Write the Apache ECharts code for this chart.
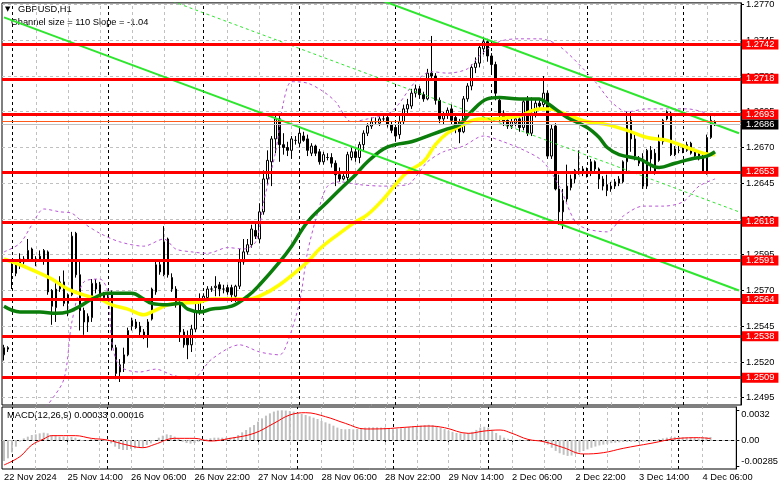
<!DOCTYPE html>
<html><head><meta charset="utf-8">
<script src="https://cdn.jsdelivr.net/npm/echarts@6/dist/echarts.min.js"></script>
<style>html,body{margin:0;padding:0;background:#fff}#c{width:781px;height:489px}</style>
</head><body><div id="c"></div>
<script>
const FONT = 'Liberation Sans';

// ---- OHLC (GBPUSD H1, 22 Nov 22:00 -> 4 Dec 08:00) ----
const opens = [1.2525,1.2530,1.2587,1.2582,1.2589,1.2590,1.2591,1.2599,1.2590,1.2592,1.2592,1.2597,1.2570,1.2558,1.2571,1.2576,1.2561,1.2567,1.2610,1.2581,1.2556,1.2548,1.2551,1.2575,1.2574,1.2565,1.2567,1.2567,1.2530,1.2518,1.2519,1.2525,1.2545,1.2548,1.2545,1.2541,1.2538,1.2550,1.2569,1.2588,1.2581,1.2606,1.2579,1.2571,1.2561,1.2541,1.2537,1.2532,1.2543,1.2556,1.2564,1.2565,1.2571,1.2572,1.2574,1.2571,1.2572,1.2572,1.2566,1.2573,1.2590,1.2597,1.2602,1.2612,1.2606,1.2625,1.2648,1.2660,1.2676,1.2690,1.2672,1.2670,1.2668,1.2675,1.2673,1.2678,1.2676,1.2666,1.2671,1.2667,1.2660,1.2663,1.2663,1.2659,1.2651,1.2648,1.2649,1.2663,1.2667,1.2663,1.2672,1.2680,1.2685,1.2688,1.2687,1.2690,1.2691,1.2686,1.2684,1.2679,1.2688,1.2697,1.2699,1.2708,1.2711,1.2707,1.2704,1.2722,1.2720,1.2703,1.2690,1.2693,1.2697,1.2691,1.2688,1.2681,1.2704,1.2713,1.2726,1.2729,1.2739,1.2744,1.2734,1.2728,1.2703,1.2694,1.2689,1.2685,1.2687,1.2690,1.2684,1.2703,1.2680,1.2694,1.2701,1.2700,1.2708,1.2664,1.2685,1.2641,1.2625,1.2634,1.2642,1.2648,1.2655,1.2655,1.2652,1.2653,1.2660,1.2655,1.2648,1.2644,1.2641,1.2643,1.2645,1.2646,1.2660,1.2689,1.2676,1.2662,1.2661,1.2643,1.2668,1.2666,1.2661,1.2674,1.2690,1.2694,1.2669,1.2668,1.2670,1.2668,1.2673,1.2668,1.2662,1.2664,1.2652,1.2677,1.2688];
const highs = [1.2532,1.2531,1.2590,1.2592,1.2596,1.2594,1.2606,1.2600,1.2594,1.2598,1.2599,1.2598,1.2571,1.2575,1.2580,1.2584,1.2568,1.2611,1.2611,1.2591,1.2558,1.2554,1.2578,1.2578,1.2576,1.2569,1.2569,1.2570,1.2532,1.2522,1.2530,1.2544,1.2551,1.2550,1.2548,1.2543,1.2550,1.2572,1.2590,1.2592,1.2615,1.2607,1.2582,1.2573,1.2563,1.2543,1.2542,1.2546,1.2561,1.2568,1.2568,1.2573,1.2573,1.2580,1.2576,1.2574,1.2574,1.2574,1.2574,1.2599,1.2606,1.2606,1.2616,1.2618,1.2631,1.2654,1.2668,1.2678,1.2693,1.2692,1.2680,1.2674,1.2678,1.2678,1.2683,1.2681,1.2679,1.2673,1.2672,1.2669,1.2667,1.2666,1.2666,1.2661,1.2656,1.2652,1.2667,1.2670,1.2669,1.2674,1.2682,1.2687,1.2691,1.2691,1.2692,1.2693,1.2693,1.2688,1.2686,1.2692,1.2700,1.2704,1.2711,1.2714,1.2713,1.2709,1.2725,1.2748,1.2722,1.2705,1.2695,1.2698,1.2700,1.2694,1.2690,1.2706,1.2715,1.2728,1.2733,1.2742,1.2747,1.2746,1.2736,1.2730,1.2706,1.2696,1.2691,1.2691,1.2693,1.2692,1.2704,1.2706,1.2705,1.2704,1.2703,1.2720,1.2710,1.2686,1.2687,1.2651,1.2641,1.2658,1.2651,1.2655,1.2668,1.2657,1.2656,1.2662,1.2661,1.2656,1.2650,1.2651,1.2646,1.2648,1.2650,1.2661,1.2695,1.2695,1.2679,1.2664,1.2666,1.2669,1.2671,1.2669,1.2679,1.2690,1.2696,1.2695,1.2671,1.2672,1.2672,1.2674,1.2674,1.2669,1.2667,1.2665,1.2679,1.2694,1.2689];
const lows = [1.2521,1.2527,1.2571,1.2580,1.2585,1.2588,1.2590,1.2590,1.2587,1.2590,1.2588,1.2567,1.2546,1.2548,1.2569,1.2559,1.2552,1.2566,1.2579,1.2542,1.2539,1.2541,1.2548,1.2568,1.2563,1.2563,1.2563,1.2528,1.2508,1.2506,1.2513,1.2524,1.2542,1.2543,1.2538,1.2536,1.2530,1.2549,1.2567,1.2581,1.2580,1.2579,1.2569,1.2558,1.2534,1.2530,1.2522,1.2527,1.2541,1.2553,1.2562,1.2563,1.2569,1.2566,1.2566,1.2568,1.2567,1.2562,1.2562,1.2571,1.2588,1.2595,1.2600,1.2606,1.2603,1.2623,1.2644,1.2643,1.2666,1.2660,1.2665,1.2664,1.2662,1.2672,1.2670,1.2674,1.2664,1.2664,1.2664,1.2658,1.2658,1.2661,1.2656,1.2643,1.2646,1.2647,1.2646,1.2661,1.2660,1.2659,1.2668,1.2678,1.2683,1.2686,1.2685,1.2688,1.2684,1.2680,1.2674,1.2676,1.2686,1.2694,1.2697,1.2705,1.2704,1.2702,1.2703,1.2718,1.2700,1.2687,1.2686,1.2690,1.2686,1.2680,1.2673,1.2680,1.2702,1.2710,1.2722,1.2726,1.2735,1.2730,1.2722,1.2703,1.2688,1.2685,1.2683,1.2683,1.2685,1.2681,1.2682,1.2678,1.2678,1.2691,1.2697,1.2698,1.2662,1.2662,1.2640,1.2616,1.2613,1.2632,1.2640,1.2645,1.2651,1.2650,1.2649,1.2650,1.2653,1.2641,1.2640,1.2636,1.2639,1.2641,1.2643,1.2645,1.2652,1.2667,1.2661,1.2657,1.2641,1.2641,1.2653,1.2651,1.2660,1.2672,1.2689,1.2664,1.2664,1.2666,1.2666,1.2667,1.2665,1.2662,1.2661,1.2652,1.2651,1.2676,1.2685];
const closes = [1.2530,1.2529,1.2583,1.2591,1.2592,1.2592,1.2598,1.2591,1.2592,1.2594,1.2598,1.2569,1.2559,1.2571,1.2576,1.2561,1.2567,1.2608,1.2581,1.2556,1.2548,1.2552,1.2575,1.2571,1.2565,1.2567,1.2565,1.2530,1.2512,1.2513,1.2525,1.2542,1.2549,1.2544,1.2541,1.2538,1.2548,1.2571,1.2588,1.2583,1.2604,1.2581,1.2571,1.2560,1.2541,1.2532,1.2532,1.2543,1.2556,1.2564,1.2566,1.2571,1.2571,1.2573,1.2571,1.2571,1.2569,1.2567,1.2573,1.2590,1.2597,1.2602,1.2613,1.2608,1.2625,1.2648,1.2661,1.2676,1.2690,1.2672,1.2670,1.2668,1.2676,1.2675,1.2680,1.2675,1.2668,1.2671,1.2666,1.2660,1.2665,1.2663,1.2659,1.2651,1.2648,1.2650,1.2665,1.2667,1.2663,1.2672,1.2680,1.2685,1.2688,1.2688,1.2690,1.2690,1.2686,1.2682,1.2678,1.2688,1.2697,1.2700,1.2708,1.2711,1.2707,1.2704,1.2722,1.2720,1.2703,1.2690,1.2693,1.2696,1.2689,1.2683,1.2681,1.2704,1.2713,1.2726,1.2729,1.2740,1.2744,1.2734,1.2728,1.2708,1.2693,1.2688,1.2685,1.2688,1.2690,1.2684,1.2702,1.2680,1.2694,1.2701,1.2699,1.2708,1.2664,1.2683,1.2641,1.2625,1.2633,1.2643,1.2648,1.2654,1.2655,1.2652,1.2653,1.2660,1.2655,1.2648,1.2643,1.2640,1.2643,1.2646,1.2648,1.2660,1.2688,1.2676,1.2664,1.2659,1.2643,1.2668,1.2662,1.2652,1.2674,1.2689,1.2695,1.2665,1.2665,1.2668,1.2668,1.2672,1.2666,1.2664,1.2666,1.2653,1.2677,1.2689,1.2686];

// ---- moving averages / envelope lines: [bar index] and [price] ----
const maSlowIdx = [0,4,9,12,16,21,24,27,31,35,37,41,44,49,52,57,61,64,69,76,79,84,88,91,95,98,101,105,108,111,115,119,122,129,134,137,139,142,146,151,156,161,166,171,175,178];
const maSlowVal = [1.2592,1.2588,1.2582,1.2578,1.2571,1.2566,1.2564,1.2560,1.2557,1.2553,1.2555,1.2560,1.2561,1.2562,1.2564,1.2564,1.2564,1.2566,1.2574,1.2590,1.2599,1.2610,1.2618,1.2623,1.2634,1.2644,1.2653,1.2660,1.2672,1.2680,1.2686,1.2690,1.2690,1.2692,1.2697,1.2697,1.2695,1.2692,1.2688,1.2686,1.2682,1.2677,1.2675,1.2670,1.2666,1.2665];
const maFastIdx = [0,4,9,13,16,19,22,26,29,32,35,37,41,44,46,49,52,57,61,64,69,72,76,81,85,88,91,95,98,102,107,111,114,117,121,124,129,134,136,138,141,146,149,151,154,159,164,168,172,176,178];
const maFastVal = [1.2559,1.2555,1.2555,1.2554,1.2555,1.2559,1.2564,1.2568,1.2568,1.2568,1.2564,1.2561,1.2560,1.2561,1.2557,1.2555,1.2557,1.2559,1.2566,1.2574,1.2590,1.2601,1.2618,1.2632,1.2643,1.2651,1.2660,1.2669,1.2672,1.2674,1.2679,1.2683,1.2686,1.2695,1.2704,1.2705,1.2704,1.2704,1.2701,1.2697,1.2691,1.2684,1.2677,1.2670,1.2665,1.2662,1.2656,1.2659,1.2662,1.2664,1.2667];
const bandUpIdx = [0,4,7,10,14,17,20,24,29,35,40,43,47,51,56,60,63,65,68,70,72,76,80,83,87,91,97,103,107,111,116,119,124,129,134,139,148,152,156,161,166,171,176,178];
const bandUpVal = [1.2597,1.2603,1.2616,1.2627,1.2625,1.2624,1.2617,1.2610,1.2604,1.2601,1.2606,1.2599,1.2597,1.2596,1.2600,1.2599,1.2604,1.2632,1.2667,1.2702,1.2716,1.2715,1.2709,1.2702,1.2688,1.2690,1.2695,1.2716,1.2723,1.2722,1.2725,1.2734,1.2744,1.2746,1.2746,1.2741,1.2716,1.2702,1.2695,1.2697,1.2697,1.2697,1.2694,1.2692];
const bandLoIdx = [6,9,11,15,17,20,24,26,27,29,34,38,42,47,52,59,64,69,71,74,76,79,81,84,89,95,101,104,106,110,115,120,125,131,135,139,143,146,151,155,160,165,170,174,178];
const bandLoVal = [1.2478,1.2482,1.2490,1.2508,1.2548,1.2576,1.2578,1.2569,1.2534,1.2517,1.2513,1.2515,1.2511,1.2508,1.2522,1.2532,1.2527,1.2525,1.2534,1.2562,1.2597,1.2629,1.2643,1.2646,1.2644,1.2643,1.2644,1.2653,1.2660,1.2667,1.2671,1.2678,1.2674,1.2667,1.2660,1.2643,1.2618,1.2613,1.2611,1.2622,1.2629,1.2629,1.2632,1.2643,1.2648];

// ---- equidistant channel (values at bar 0 and bar 184) ----
const channelIdx = [0, 184];
const channelUpper = [1.2871, 1.2680];
const channelMiddle = [1.2816, 1.2625];
const channelLower = [1.2761, 1.2570];

// ---- horizontal levels ----
const levels = [1.2742, 1.2718, 1.2693, 1.2653, 1.2618, 1.2591, 1.2564, 1.2538, 1.2509];
const bidPrice = 1.2686;
const askPrice = 1.26883;
const priceTicks = [1.2495,1.2520,1.2545,1.2570,1.2595,1.2620,1.2645,1.2670,1.2695,1.2720,1.2745,1.2770];

// ---- MACD(12,26,9) ----
const macdMain = [-0.00227,-0.00198,-0.00134,-0.00072,-0.00017,0.00017,0.00036,0.00054,0.00061,0.00072,0.00079,0.00072,0.00054,0.00047,0.00036,0.00036,0.00025,0.00033,0.00025,0.00008,-0.00008,-0.00003,0.00008,0.00008,0.00000,-0.00008,-0.00011,-0.00036,-0.00072,-0.00097,-0.00108,-0.00108,-0.00097,-0.00090,-0.00083,-0.00076,-0.00054,-0.00036,0.00000,0.00025,0.00047,0.00061,0.00054,0.00036,0.00011,-0.00018,-0.00033,-0.00039,-0.00033,-0.00018,-0.00008,0.00011,0.00018,0.00025,0.00025,0.00025,0.00025,0.00025,0.00033,0.00054,0.00083,0.00108,0.00137,0.00162,0.00198,0.00234,0.00263,0.00288,0.00307,0.00318,0.00321,0.00318,0.00313,0.00307,0.00296,0.00281,0.00270,0.00256,0.00241,0.00227,0.00206,0.00191,0.00176,0.00155,0.00134,0.00119,0.00115,0.00119,0.00115,0.00119,0.00126,0.00134,0.00137,0.00137,0.00137,0.00134,0.00134,0.00126,0.00118,0.00122,0.00126,0.00130,0.00139,0.00147,0.00151,0.00155,0.00160,0.00164,0.00160,0.00151,0.00134,0.00118,0.00101,0.00088,0.00076,0.00071,0.00071,0.00076,0.00088,0.00109,0.00134,0.00143,0.00134,0.00109,0.00076,0.00050,0.00025,0.00013,0.00004,0.00000,0.00004,-0.00004,-0.00004,-0.00008,-0.00008,-0.00004,-0.00025,-0.00050,-0.00084,-0.00118,-0.00143,-0.00160,-0.00172,-0.00168,-0.00151,-0.00134,-0.00118,-0.00101,-0.00084,-0.00071,-0.00059,-0.00050,-0.00042,-0.00034,-0.00029,-0.00025,-0.00021,-0.00021,-0.00021,-0.00021,-0.00025,-0.00021,-0.00017,-0.00013,-0.00004,0.00008,0.00017,0.00025,0.00029,0.00034,0.00034,0.00029,0.00025,0.00025,0.00021,0.00017,0.00025,0.00029,0.00033];
const signalIdx = [0,4,7,10,12,18,22,26,31,35,38,43,48,52,57,63,68,72,76,81,86,91,96,101,107,111,117,121,125,128,132,136,141,146,151,156,163,170,175,178];
const signalVal = [-0.00270,-0.00180,-0.00054,0.00011,0.00047,0.00047,0.00018,0.00000,-0.00054,-0.00083,-0.00047,0.00018,0.00018,-0.00011,0.00018,0.00072,0.00180,0.00270,0.00295,0.00252,0.00180,0.00119,0.00122,0.00137,0.00151,0.00133,0.00072,0.00097,0.00108,0.00072,0.00007,-0.00018,-0.00083,-0.00151,-0.00137,-0.00090,-0.00036,0.00018,0.00025,0.00016];
const macdTicks = [0.0032, 0, -0.00285];
const macdTickText = ['0.0032', '0.00', '-0.00285'];

// ---- time axis ----
const dateTickLabels = ['22 Nov 2024','25 Nov 14:00','26 Nov 06:00','26 Nov 22:00','27 Nov 14:00','28 Nov 06:00','28 Nov 22:00','29 Nov 14:00','2 Dec 06:00','2 Dec 22:00','3 Dec 14:00','4 Dec 06:00'];
const SLOTS = 185; // 179 bars + empty space on the right
const MONTHS = ['Jan','Feb','Mar','Apr','May','Jun','Jul','Aug','Sep','Oct','Nov','Dec'];
const categories = [];
const hours = [];
(function () {
  let t = Date.UTC(2024, 10, 22, 22);
  while (categories.length < SLOTS) {
    const d = new Date(t);
    const wd = d.getUTCDay();
    if (wd !== 0 && wd !== 6) {
      const h = d.getUTCHours();
      categories.push(d.getUTCDate() + ' ' + MONTHS[d.getUTCMonth()] + ' ' + String(h).padStart(2, '0') + ':00');
      hours.push(h);
    }
    t += 3600000;
  }
})();
const LABEL_STEP = 16, GRID_STEP = 8;
const dayStarts = hours.map((h, i) => h === 0 ? i : -1).filter(i => i >= 0);
const grayV = [];
for (let i = GRID_STEP; i < SLOTS - 1; i += GRID_STEP) grayV.push(i);

const pairs = (idx, val) => idx.map((x, k) => [x, val[k]]);
const candleData = opens.map((o, i) => [o, closes[i], lows[i], highs[i]]);

const vLines = grayV.map(i => ({ xAxis: i, lineStyle: { color: '#c0c0c0', type: [3, 3], width: 1 } }))
  .concat(dayStarts.map(i => ({ xAxis: i, lineStyle: { color: '#000000', type: [3, 3], width: 1 } })));

const txt = { fontFamily: FONT, fontSize: 9.3, color: '#000' };

const chart = echarts.init(document.getElementById('c'), null, { renderer: 'canvas' });
chart.setOption({
  animation: false,
  backgroundColor: '#ffffff',
  grid: [
    { left: 2, top: 1, width: 739, height: 404, show: true, borderColor: '#000', borderWidth: 1, backgroundColor: 'transparent' },
    { left: 2, top: 407, width: 739, height: 62, show: true, borderColor: '#000', borderWidth: 1, backgroundColor: 'transparent' }
  ],
  xAxis: [
    { type: 'category', gridIndex: 0, data: categories, boundaryGap: true,
      axisLine: { show: false }, axisTick: { show: false }, axisLabel: { show: false }, splitLine: { show: false } },
    { type: 'category', gridIndex: 1, data: categories, boundaryGap: true, position: 'bottom',
      axisLine: { show: true, lineStyle: { color: '#000' } },
      axisTick: { show: true, alignWithLabel: true, length: 3, interval: (i) => i % LABEL_STEP === 0, lineStyle: { color: '#000' } },
      axisLabel: { show: true, interval: (i) => i % LABEL_STEP === 0 && i / LABEL_STEP < dateTickLabels.length,
        formatter: (v, i) => dateTickLabels[i / LABEL_STEP] || '', align: 'left', margin: 4, ...txt },
      splitLine: { show: false } }
  ],
  yAxis: [
    { type: 'value', gridIndex: 0, position: 'right', min: 1.248992, max: 1.277112,
      axisLine: { show: true, lineStyle: { color: '#000' } },
      axisTick: { show: true, customValues: priceTicks, length: 3, lineStyle: { color: '#000' } },
      axisLabel: { show: true, customValues: priceTicks, formatter: (v) => v.toFixed(4), margin: 5, ...txt },
      splitLine: { show: false } },
    { type: 'value', gridIndex: 1, position: 'right', min: -0.003133, max: 0.003565,
      axisLine: { show: true, lineStyle: { color: '#000' } },
      axisTick: { show: true, customValues: macdTicks, length: 3, lineStyle: { color: '#000' } },
      axisLabel: { show: true, customValues: macdTicks, margin: 5, ...txt,
        formatter: (v) => {
          const k = macdTicks.findIndex(t => Math.abs(t - v) < 1e-7);
          const s = k >= 0 ? macdTickText[k] : '';
          if (v > 0.001) return '{t|' + s + '}';
          if (v < -0.001) return '{b|' + s + '}';
          return s;
        },
        rich: { t: { padding: [8, 0, 0, 0], ...txt }, b: { padding: [0, 0, 10, 0], ...txt } } },
      splitLine: { show: false } }
  ],
  graphic: [
    { type: 'text', left: 5, top: 6, style: { text: '▼', font: '7px "DejaVu Sans"', fill: '#000' } },
    { type: 'text', left: 18, top: 5, style: { text: 'GBPUSD,H1', font: '9.3px "' + FONT + '"', fill: '#000' } },
    { type: 'text', left: 11, top: 18, style: { text: 'Channel size = 110 Slope = -1.04', font: '9.3px "' + FONT + '"', fill: '#000' } },
    { type: 'text', left: 7, top: 411, style: { text: 'MACD(12,26,9) 0.00033 0.00016', font: '9.3px "' + FONT + '"', fill: '#000' } }
  ],
  series: [
    { name: 'grid', type: 'line', xAxisIndex: 0, yAxisIndex: 0, data: [], silent: true,
      markLine: { z: 1, precision: 6, silent: true, symbol: ['none', 'none'], label: { show: false },
        data: priceTicks.map(v => ({ yAxis: v, lineStyle: { color: '#c0c0c0', type: [3, 3], width: 1 } })).concat(vLines) } },
    { name: 'GBPUSD', type: 'candlestick', xAxisIndex: 0, yAxisIndex: 0, data: candleData, barWidth: 2, z: 2,
      itemStyle: { color: '#ffffff', color0: '#000000', borderColor: '#000000', borderColor0: '#000000', borderWidth: 1 } },
    { name: 'bandUp', type: 'line', xAxisIndex: 0, yAxisIndex: 0, data: pairs(bandUpIdx, bandUpVal), smooth: 0.3, symbol: 'none', z: 3,
      lineStyle: { color: '#b955d6', width: 1, type: [3, 3] } },
    { name: 'bandLo', type: 'line', xAxisIndex: 0, yAxisIndex: 0, data: pairs(bandLoIdx, bandLoVal), smooth: 0.3, symbol: 'none', z: 3,
      lineStyle: { color: '#b955d6', width: 1, type: [3, 3] } },
    { name: 'maSlow', type: 'line', xAxisIndex: 0, yAxisIndex: 0, data: pairs(maSlowIdx, maSlowVal), smooth: 0.4, symbol: 'none', z: 3,
      lineStyle: { color: '#ffff00', width: 3.5 } },
    { name: 'maFast', type: 'line', xAxisIndex: 0, yAxisIndex: 0, data: pairs(maFastIdx, maFastVal), smooth: 0.4, symbol: 'none', z: 3,
      lineStyle: { color: '#0a7d0a', width: 3.5 } },
    { name: 'chUp', type: 'line', xAxisIndex: 0, yAxisIndex: 0, data: pairs(channelIdx, channelUpper), symbol: 'none', z: 4, clip: true,
      lineStyle: { color: '#2ee62e', width: 2 } },
    { name: 'chMid', type: 'line', xAxisIndex: 0, yAxisIndex: 0, data: pairs(channelIdx, channelMiddle), symbol: 'none', z: 4, clip: true,
      lineStyle: { color: '#2ee62e', width: 1, type: [3, 3] } },
    { name: 'chLo', type: 'line', xAxisIndex: 0, yAxisIndex: 0, data: pairs(channelIdx, channelLower), symbol: 'none', z: 4, clip: true,
      lineStyle: { color: '#2ee62e', width: 2 } },
    { name: 'levels', type: 'line', xAxisIndex: 0, yAxisIndex: 0, data: [], silent: true,
      markLine: { z: 6, precision: 6, silent: true, symbol: ['none', 'none'],
        label: { show: true, position: 'end', distance: 1, color: '#fff', fontFamily: FONT, fontSize: 9.3, lineHeight: 10,
          padding: [0, 4, 0, 4], formatter: (p) => Number(p.value).toFixed(4) },
        data: levels.map(v => ({ yAxis: v, lineStyle: { color: '#ff0000', width: 3, type: 'solid' }, label: { backgroundColor: '#ff0000' } }))
          .concat([
            { yAxis: askPrice, lineStyle: { color: '#ff5a1a', width: 1, type: 'solid' }, label: { show: false } },
            { yAxis: bidPrice, lineStyle: { color: '#c0c0c0', width: 1, type: 'solid' }, label: { backgroundColor: '#000000' } }
          ]) } },
    { name: 'macdGrid', type: 'line', xAxisIndex: 1, yAxisIndex: 1, data: [], silent: true,
      markLine: { z: 1, precision: 6, silent: true, symbol: ['none', 'none'], label: { show: false },
        data: [{ yAxis: 0, lineStyle: { color: '#c0c0c0', type: [3, 3], width: 1 } }].concat(vLines) } },
    { name: 'MACD', type: 'bar', xAxisIndex: 1, yAxisIndex: 1, data: macdMain, barWidth: 2, z: 2,
      itemStyle: { color: '#c0c0c0' } },
    { name: 'Signal', type: 'line', xAxisIndex: 1, yAxisIndex: 1, data: pairs(signalIdx, signalVal), smooth: 0.4, symbol: 'none', z: 3,
      lineStyle: { color: '#ff0000', width: 1 } }
  ]
});
</script>
</body></html>
